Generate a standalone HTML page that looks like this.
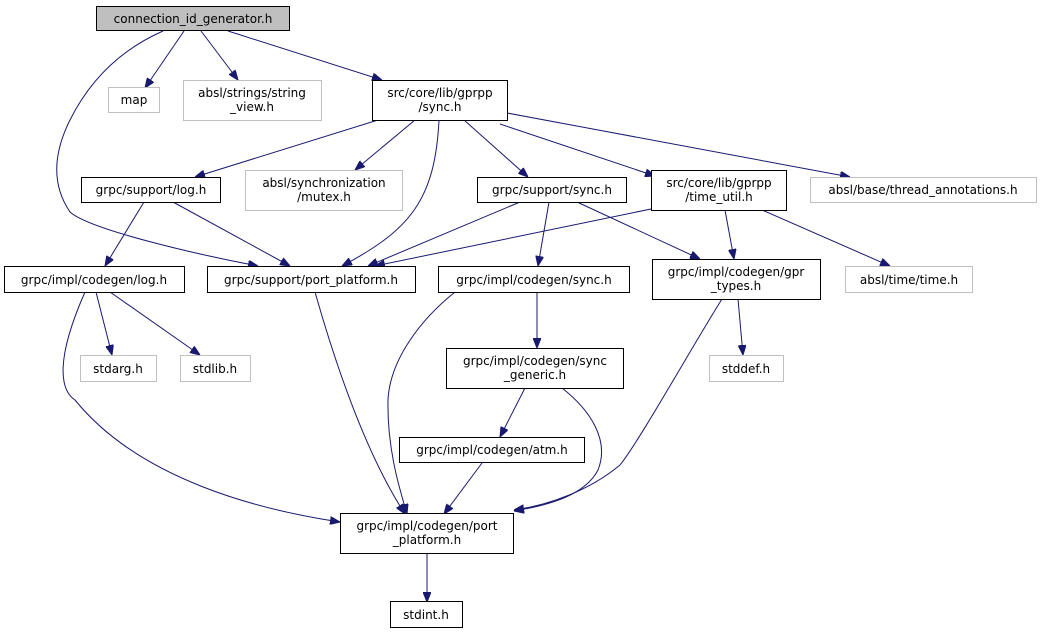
<!DOCTYPE html>
<html><head><meta charset="utf-8"><style>
html,body{margin:0;padding:0;background:#fff;}
svg{display:block;}
text{font-family:"DejaVu Sans","Liberation Sans",sans-serif;font-size:12px;fill:#000;}
</style></head><body>
<svg width="1043" height="633" viewBox="0 0 1043 633" xmlns="http://www.w3.org/2000/svg">
<defs>
<marker id="a" markerWidth="10" markerHeight="8" refX="10" refY="4" orient="auto" markerUnits="userSpaceOnUse">
<path d="M0,0 L10,4 L0,8 Z" fill="#191970" stroke="#191970"/>
</marker>
</defs>
<g fill="none" stroke="#191970" stroke-width="1" marker-end="url(#a)">
<path d="M184,31 L145,88"/>
<path d="M201,31 L238,80"/>
<path d="M228,31 L382,80"/>
<path d="M163,31 C120,50 90,80 70,120 C50,160 55,190 70,212 C90,230 200,255 258,266"/>
<path d="M378,120 L195,177"/>
<path d="M415,120 L355,170"/>
<path d="M439,120 C435,200 410,230 342,266"/>
<path d="M464,120 L528,177"/>
<path d="M500,124 L655,176"/>
<path d="M507,113 L850,177"/>
<path d="M144,202 L105,266"/>
<path d="M173,202 L290,266"/>
<path d="M520,202 L368,266"/>
<path d="M549,202 L538,266"/>
<path d="M577,202 L700,259"/>
<path d="M651,209 L375,266"/>
<path d="M725,210 L734,259"/>
<path d="M762,210 L890,266"/>
<path d="M738,299 L743,355"/>
<path d="M96,292 L112,355"/>
<path d="M110,292 L200,355"/>
<path d="M85,292 C55,360 60,390 75,400 C140,480 260,510 340,522"/>
<path d="M315,292 C340,380 370,460 405,514"/>
<path d="M455,292 C420,320 390,360 388,400 C387,450 400,490 407,514"/>
<path d="M537,292 L537,348"/>
<path d="M525,388 L500,437"/>
<path d="M562,388 C590,410 610,440 598,470 C585,495 550,505 514,511"/>
<path d="M482,463 L444,514"/>
<path d="M722,299 C690,350 640,440 620,465 C590,490 550,505 514,510"/>
<path d="M427,552 L427,602"/>
</g>
<g stroke-width="1">
<rect x="96.5" y="6.5" width="193" height="24" fill="#bfbfbf" stroke="#000"/>
<rect x="108.5" y="87.5" width="51" height="25" fill="#fff" stroke="#bfbfbf"/>
<rect x="183.5" y="80.5" width="138" height="40" fill="#fff" stroke="#bfbfbf"/>
<rect x="372.5" y="80.5" width="135" height="40" fill="#fff" stroke="#000"/>
<rect x="81.5" y="177.5" width="139" height="25" fill="#fff" stroke="#000"/>
<rect x="245.5" y="170.5" width="157" height="40" fill="#fff" stroke="#bfbfbf"/>
<rect x="477.5" y="177.5" width="149" height="25" fill="#fff" stroke="#000"/>
<rect x="651.5" y="170.5" width="135" height="40" fill="#fff" stroke="#000"/>
<rect x="810.5" y="177.5" width="226" height="25" fill="#fff" stroke="#bfbfbf"/>
<rect x="4.5" y="266.5" width="180" height="26" fill="#fff" stroke="#000"/>
<rect x="207.5" y="266.5" width="208" height="26" fill="#fff" stroke="#000"/>
<rect x="438.5" y="266.5" width="191" height="26" fill="#fff" stroke="#000"/>
<rect x="652.5" y="259.5" width="168" height="40" fill="#fff" stroke="#000"/>
<rect x="845.5" y="266.5" width="127" height="26" fill="#fff" stroke="#bfbfbf"/>
<rect x="80.5" y="355.5" width="76" height="26" fill="#fff" stroke="#bfbfbf"/>
<rect x="180.5" y="355.5" width="70" height="26" fill="#fff" stroke="#bfbfbf"/>
<rect x="446.5" y="348.5" width="177" height="40" fill="#fff" stroke="#000"/>
<rect x="709.5" y="355.5" width="74" height="26" fill="#fff" stroke="#bfbfbf"/>
<rect x="399.5" y="437.5" width="185" height="25" fill="#fff" stroke="#000"/>
<rect x="340.5" y="513.5" width="173" height="40" fill="#fff" stroke="#000"/>
<rect x="390.5" y="601.5" width="72" height="26" fill="#fff" stroke="#000"/>
</g>
<g text-anchor="middle">
<text x="193" y="23">connection_id_generator.h</text>
<text x="134" y="104">map</text>
<text x="252" y="97">absl/strings/string</text>
<text x="252" y="111">_view.h</text>
<text x="440" y="97">src/core/lib/gprpp</text>
<text x="440" y="111">/sync.h</text>
<text x="151" y="194">grpc/support/log.h</text>
<text x="324" y="187">absl/synchronization</text>
<text x="324" y="201">/mutex.h</text>
<text x="552" y="194">grpc/support/sync.h</text>
<text x="719" y="187">src/core/lib/gprpp</text>
<text x="719" y="201">/time_util.h</text>
<text x="923" y="194">absl/base/thread_annotations.h</text>
<text x="94" y="284">grpc/impl/codegen/log.h</text>
<text x="311" y="284">grpc/support/port_platform.h</text>
<text x="534" y="284">grpc/impl/codegen/sync.h</text>
<text x="736" y="276">grpc/impl/codegen/gpr</text>
<text x="736" y="290">_types.h</text>
<text x="909" y="284">absl/time/time.h</text>
<text x="118" y="373">stdarg.h</text>
<text x="215" y="373">stdlib.h</text>
<text x="535" y="365">grpc/impl/codegen/sync</text>
<text x="535" y="379">_generic.h</text>
<text x="746" y="373">stddef.h</text>
<text x="492" y="454">grpc/impl/codegen/atm.h</text>
<text x="427" y="530">grpc/impl/codegen/port</text>
<text x="427" y="544">_platform.h</text>
<text x="426" y="619">stdint.h</text>
</g>
</svg>
</body></html>
